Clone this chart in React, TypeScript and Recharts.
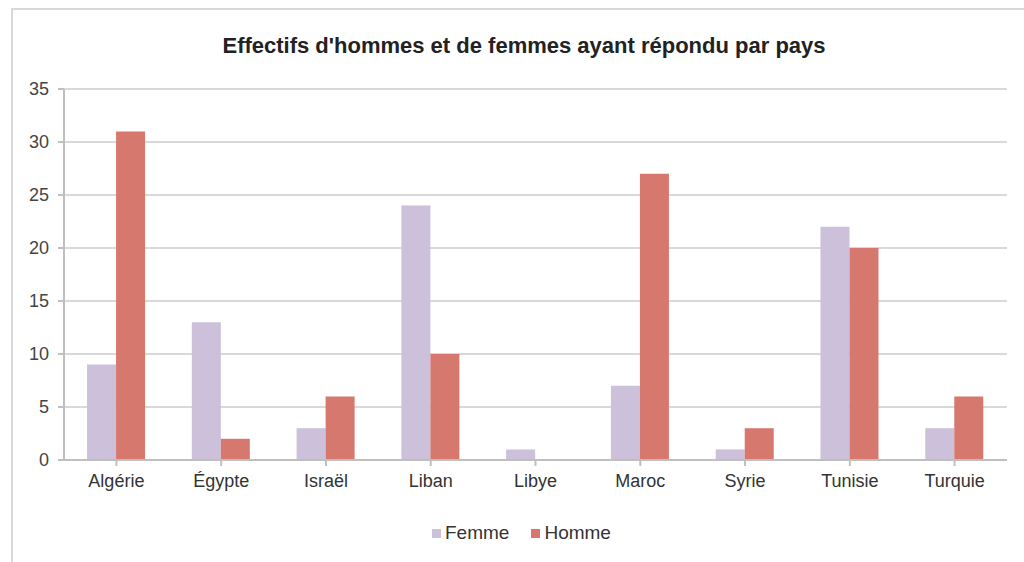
import React from 'react';
import { BarChart, Bar, XAxis, YAxis, CartesianGrid, Legend } from 'recharts';

const countries = ['Algérie', 'Égypte', 'Israël', 'Liban', 'Libye', 'Maroc', 'Syrie', 'Tunisie', 'Turquie'];
const femmes = [9, 13, 3, 24, 1, 7, 1, 22, 3];
const hommes = [31, 2, 6, 10, 0, 27, 3, 20, 6];
const yTicks = [0, 5, 10, 15, 20, 25, 30, 35];

const data = countries.map((c, i) => ({ pays: c, Femme: femmes[i], Homme: hommes[i] }));

const FONT = '"Liberation Sans", Arial, sans-serif';

const App: React.FC = () => {
  return (
    <div style={{ position: 'absolute', left: 0, top: 0, width: 1024, height: 562, background: '#fff', fontFamily: FONT, overflow: 'hidden' }}>
      {/* frame of the chart area */}
      <div style={{ position: 'absolute', left: 11, top: 8, right: -4, bottom: -4, border: '2px solid #d9d9d9' }} />
      <div style={{ position: 'absolute', top: 33, left: 0, width: 1048, textAlign: 'center', fontSize: 22, fontWeight: 'bold', color: '#222' }}>
        Effectifs d'hommes et de femmes ayant répondu par pays
      </div>
      <BarChart
        width={1024}
        height={562}
        data={data}
        margin={{ top: 89, right: 17, left: 20, bottom: 50 }}
        barCategoryGap="22%"
        barGap={0}
        style={{ position: 'absolute', left: 0, top: 0 }}
      >
        <CartesianGrid vertical={false} stroke="#d9d9d9" strokeWidth={2} />
        <XAxis
          dataKey="pays"
          stroke="#bfbfbf"
          strokeWidth={2}
          tickSize={6}
          interval={0}
          tick={{ fill: '#333', fontSize: 18, fontFamily: FONT }}
          tickMargin={8}
          height={30}
        />
        <YAxis
          ticks={yTicks}
          domain={[0, 35]}
          stroke="#bfbfbf"
          strokeWidth={2}
          tickSize={6}
          width={44}
          tick={{ fill: '#444', fontSize: 18, fontFamily: FONT }}
          tickMargin={9}
        />
        <Legend
          verticalAlign="bottom"
          iconType="square"
          iconSize={9}
          wrapperStyle={{ fontSize: 19, fontFamily: FONT, color: '#333', bottom: 18, left: 432, width: 'auto' }}
          formatter={(v: string) => <span style={{ color: '#333', marginRight: 12 }}>{v}</span>}
        />
        <Bar dataKey="Femme" fill="#ccc0da" isAnimationActive={false} />
        <Bar dataKey="Homme" fill="#d7786f" isAnimationActive={false} />
      </BarChart>
    </div>
  );
};

export default App;
